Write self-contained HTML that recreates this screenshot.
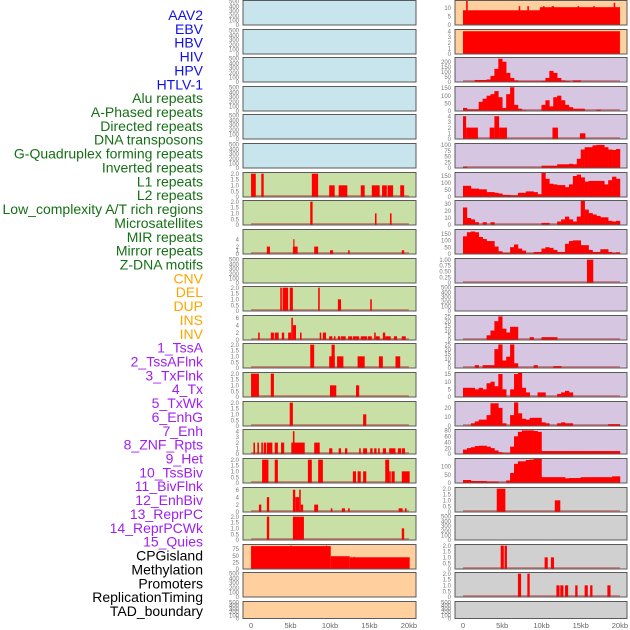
<!DOCTYPE html>
<html><head><meta charset="utf-8">
<style>
html,body{margin:0;padding:0;background:#fff;}
svg{display:block;font-family:"Liberation Sans",sans-serif;}
</style></head>
<body>
<svg id="chart" width="630" height="630" viewBox="0 0 630 630" xmlns="http://www.w3.org/2000/svg">
<g id="labels" font-size="14" text-anchor="end"></g>
<g id="panels"></g>
<g id="xaxis" font-size="7.5" fill="#666" text-anchor="middle"></g>
</svg>
<script>
// ---- labels ----
const labelNames = ["AAV2","EBV","HBV","HIV","HPV","HTLV-1","Alu repeats","A-Phased repeats","Directed repeats","DNA transposons","G-Quadruplex forming repeats","Inverted repeats","L1 repeats","L2 repeats","Low_complexity A/T rich regions","Microsatellites","MIR repeats","Mirror repeats","Z-DNA motifs","CNV","DEL","DUP","INS","INV","1_TssA","2_TssAFlnk","3_TxFlnk","4_Tx","5_TxWk","6_EnhG","7_Enh","8_ZNF_Rpts","9_Het","10_TssBiv","11_BivFlnk","12_EnhBiv","13_ReprPC","14_ReprPCWk","15_Quies","CPGisland","Methylation","Promoters","ReplicationTiming","TAD_boundary"];
const labelGroups = [0,0,0,0,0,0,1,1,1,1,1,1,1,1,1,1,1,1,1,2,2,2,2,2,3,3,3,3,3,3,3,3,3,3,3,3,3,3,3,4,4,4,4,4];
const groupColors = ["#1010e8","#157015","#ffa500","#a020f0","#000000"];

// ---- x axis ----
const xTicks = [0,5,10,15,20];
const xTickLabels = ["0","5kb","10kb","15kb","20kb"];

// ---- panel backgrounds ----
const leftBg = ["b","b","b","b","b","b","g","g","g","g","g","g","g","g","g","g","g","g","g","o","o","o"];
const rightBg = ["o","o","p","p","p","p","p","p","p","p","p","p","p","p","p","p","p","r","r","r","r","r"];

// ---- y-axis ranges & ticks ----
const E = [520,[0,100,200,300,400,500]];
const leftY = [E,E,E,E,E,E,[2.1,[0,0.5,1,1.5,2]],[2.1,[0,0.5,1,1.5,2]],[6.6,[0,1,2,4]],E,[2.1,[0,0.5,1,1.5,2]],[6.6,[0,2,4,6]],[2.1,[0,0.5,1,1.5,2]],[2.1,[0,0.5,1,1.5,2]],[2.1,[0,0.5,1,1.5,2]],[4.3,[0,1,2,3,4]],[2.1,[0,0.5,1,1.5,2]],[6.6,[0,2,4,6]],[2.1,[0,0.5,1,1.5,2]],[92,[0,25,50,75]],E,E];
const rightY = [[14.3,[0,5,10]],[4.3,[0,1,2,3,4]],[242,[0,50,100,150,200]],[160,[0,50,100,150]],[4.3,[0,1,2,3,4]],[106,[0,25,50,75,100]],[175,[0,50,100,150]],[35,[0,10,20,30]],[180,[0,50,100,150]],[1.05,[0,0.25,0.5,0.75,1]],E,[26,[0,5,10,15,20,25]],[26,[0,5,10,15,20,25]],[16,[0,5,10,15]],[27,[0,10,20]],[83,[0,20,40,60,80]],[147,[0,50,100]],[2.1,[0,0.5,1,1.5,2]],E,[2.1,[0,0.5,1,1.5,2]],[2.1,[0,0.5,1,1.5,2]],E];

// ---- segment data [startKb, endKb, value] ----
const leftSegs = [[],[],[],[],[],[],
 [[0,0.6,2],[1.3,1.6,2],[7.7,8.5,2],[9.9,10.6,1],[11.1,12.2,1],[13.9,14.4,1],[15.3,16.3,1],[16.6,17.2,1],[17.3,18,1],[18.9,19.4,1]],
 [[7.5,7.8,2],[15.7,15.9,1],[17.6,17.8,1]],
 [[2.0,2.4,2],[5.3,5.9,2],[5.35,5.5,4],[8.0,8.5,2],[10.0,10.4,1],[12.3,12.5,1],[19.1,19.4,1]],
 [],
 [[3.7,3.9,2],[4.0,4.7,2],[4.9,5.3,2],[8.5,8.7,2],[11.0,11.4,1],[15.1,15.3,1]],
 [[0.9,1.1,2],[2.5,2.9,2],[3.0,3.5,2],[3.9,4.2,2],[4.7,5.1,2],[5.1,5.3,6],[5.3,5.7,4],[6.2,6.4,2],[8.7,8.9,2],[9.1,9.5,2],[9.9,10.3,1],[10.5,10.7,1],[11.0,11.3,1],[11.4,12.0,1],[12.3,12.8,1],[12.9,13.7,1],[13.9,14.7,1],[14.8,15.3,1],[15.6,15.8,2],[15.8,16.3,1],[16.7,17.0,2],[17.0,17.7,1],[18.1,18.5,1],[19.1,19.6,1]],
 [[7.5,8.0,2],[9.9,10.6,1],[10.2,10.6,2],[10.9,11.7,1],[13.5,14.4,1],[16.2,16.7,1],[18.3,18.9,1]],
 [[0,1.0,2],[2.5,2.9,2],[10.0,10.8,1],[13.3,13.7,1]],
 [[4.9,5.3,2],[14.2,14.6,1]],
 [[0.3,0.5,2],[0.8,1.0,2],[1.3,1.5,2],[1.6,1.9,2],[2.0,2.7,2],[3.0,3.4,2],[3.8,4.2,2],[5.1,6.8,2],[5.3,5.5,4],[8.0,8.7,2],[9.9,10.3,1],[11.1,11.4,1],[11.9,12.2,1],[13.7,13.9,1],[14.2,14.7,1],[15.1,15.4,1],[15.6,15.9,1],[16.1,16.3,1],[16.7,17.1,1],[17.5,18.3,1],[18.6,19.0,1],[19.1,19.5,1]],
 [[1.4,2.2,2],[3.0,3.4,2],[7.2,7.7,2],[8.5,9.1,2],[12.9,13.3,1],[13.5,13.9,1],[14.2,14.6,1],[17.0,17.5,2],[17.5,17.7,1],[17.8,18.2,1],[19.1,20.1,1]],
 [[1.0,1.3,2],[2.0,2.3,4],[5.3,5.6,6],[5.6,6.1,4],[6.1,6.3,6],[6.3,6.6,2],[8.0,8.5,2],[10.1,10.3,1],[11.5,11.9,1],[12.3,12.5,1],[18.7,19.2,1],[19.5,19.7,1]],
 [[2.0,2.3,2],[5.3,6.7,2],[19.1,19.4,1]],
 [[0,10.1,86],[10.1,12.5,48],[12.5,20.1,44],[5.0,5.1,88],[9.5,9.6,88],[13.0,13.1,46]],
 [],[]];
const rightSegs = [
 [[0,20,8.6],[9.8,20,10.4],[0.4,0.6,14],[7.1,7.3,11],[8.2,8.4,11],[10.2,10.4,11],[11.3,11.6,11],[14.6,14.8,11],[16.6,16.8,11],[19.2,19.4,13]],
 [[0,20,4]],
 [],[],
 [[0,0.4,4],[0.4,1.9,2],[3.4,4.0,2],[4.0,4.6,4],[4.6,5.6,2],[11.4,12.1,2],[14.9,15.6,1]],
 [],[],[],[],
 [[15.8,16.6,1]],
 [],[],[],[],[],[],[],
 [[4.3,5.4,2],[11.7,12.4,1]],
 [],
 [[4.8,5.2,2],[5.3,5.6,2],[10.4,10.8,1],[11.2,11.6,1]],
 [[7.0,7.4,2],[8.2,8.5,2],[11.9,12.3,1],[12.4,12.8,1],[13.0,13.4,1],[14.3,14.6,1],[15.5,15.9,1],[16.2,16.5,1],[18.4,18.8,1]],
 []];

// ---- profile data: 40 bins of 0.5kb (0-20kb) ----
const hivProfile = [5,5,5,20,20,20,25,60,130,230,200,90,40,15,8,8,8,8,8,8,10,40,110,90,40,15,10,5,15,15,5,5,5,5,5,5,5,5,5,5];
const aluProfile = [20,10,10,10,60,80,100,110,130,90,20,110,155,40,15,5,3,3,3,3,40,70,30,90,100,70,40,25,15,15,15,3,3,3,8,3,3,3,3,3];
const g4Profile = [5,0,0,0,0,0,0,0,0,0,0,0,0,0,0,0,0,0,0,0,10,10,10,10,16,16,16,18,16,40,80,90,90,98,100,100,90,80,78,82];
const invProfile = [80,80,60,60,55,55,35,35,30,25,15,15,12,12,30,30,40,40,35,20,175,130,95,90,85,85,70,90,150,160,140,110,115,115,115,115,90,120,145,130];
const lowProfile = [25,10,8,4,0,4,0,4,0,0,0,0,0,0,0,0,0,0,0,0,3,3,0,0,5,8,12,8,5,12,35,22,17,15,13,11,11,6,5,6];
const mirProfile = [130,160,165,160,125,110,95,95,55,20,8,8,50,70,40,25,5,5,15,15,40,50,45,30,15,15,75,95,100,100,65,65,30,15,15,35,35,15,8,12];
const insProfile = [0,0,0,0,0,0,5,10,20,25,12,8,14,14,0,0,0,3,0,0,3,3,3,3,0,0,0,0,0,0,0,0,0,0,0,0,0,0,0,0];
const tssaProfile = [0,0,0,3,0,3,3,3,20,25,8,12,25,5,0,0,0,0,3,0,0,0,0,2,2,0,0,0,0,0,0,0,0,0,0,0,0,0,0,0];
const tssaflnkProfile = [6,6,6,5,6,5,9,10,7,15,5,0,5,15,16,6,3,0,0,3,3,0,0,0,2,3,4,3,0,0,0,0,0,0,0,0,0,0,0,0];
const txflnkProfile = [0,0,3,5,7,7,12,25,25,20,3,0,12,26,14,8,7,9,9,9,4,3,0,0,3,4,3,3,0,0,0,0,0,0,0,0,0,2,2,2];
const txProfile = [15,20,23,27,28,28,25,20,12,6,3,3,25,60,75,80,80,80,78,75,10,10,10,10,10,10,10,10,10,10,10,10,10,10,10,10,10,10,10,10];
const txwkProfile = [18,18,12,12,12,12,8,8,8,3,3,15,60,115,130,130,138,140,145,145,35,35,35,35,35,35,28,30,30,30,35,35,35,35,35,35,35,35,40,40];
const rightProfiles = [null,null,hivProfile,aluProfile,null,g4Profile,invProfile,lowProfile,mirProfile,null,null,insProfile,tssaProfile,tssaflnkProfile,txflnkProfile,txProfile,txwkProfile,null,null,null,null,null];

// ---- render ----
const NS = "http://www.w3.org/2000/svg";
const bgColors = {b:"#c8e4ec",g:"#c8e0a6",o:"#ffd09e",p:"#d6c6e2",r:"#d0d0d0"};
const D0 = -1.02, D1 = 20.9;
function mk(tag, attrs, parent){const e=document.createElementNS(NS,tag);for(const k in attrs)e.setAttribute(k,attrs[k]);parent.appendChild(e);return e;}
const labelsG = document.getElementById("labels");
labelNames.forEach((t,i)=>{
  const e = mk("text",{x:203,y:(15+i*13.86+5).toFixed(1),fill:groupColors[labelGroups[i]]},labelsG);
  
  
  e.textContent = t;
});
const panelsG = document.getElementById("panels");
function rowTop(i){return Math.round(i*28.62)+0.5;}
function drawPanel(side, i){
  const x0 = side===0?243:455, x1 = side===0?416:627;
  const top = rowTop(i), h = i===21?17:24.5, bot = top+h;
  const bg = side===0?leftBg[i]:rightBg[i];
  const yr = side===0?leftY[i]:rightY[i];
  const ymax = yr[0];
  const xs = kb => x0 + (kb-D0)/(D1-D0)*(x1-x0);
  const ys = v => bot - v/ymax*h;
  const g = mk("g",{},panelsG);
  
  
  const bgr = mk("rect",{x:x0,y:top,width:x1-x0,height:h,fill:bgColors[bg]},g);
  
  
  // ticks
  yr[1].forEach(v=>{
    const t = mk("text",{x:x0-4,y:(ys(v)+2.2).toFixed(1),"font-size":6,fill:"#777","text-anchor":"end"},g);
    
    
    t.textContent = v===0?"0":(ymax<3 && ymax>1.5 ? v.toFixed(1) : (ymax<1.5? v.toFixed(2): String(v)));
  });
  const segs = side===0?leftSegs[i]:rightSegs[i];
  const prof = side===1?rightProfiles[i]:null;
  const hasData = segs.length>0 || prof;
  if(hasData){
    const base = mk("rect",{x:xs(0),y:bot-2,width:xs(20)-xs(0),height:2,fill:"#c03030","fill-opacity":0.5},g);
    
    
  }
  if(prof){
    prof.forEach((v,b)=>{
      if(v<=0) return;
      const r = mk("rect",{x:xs(b*0.5).toFixed(2),y:ys(Math.min(v,ymax)).toFixed(2),width:(xs((b+1)*0.5)-xs(b*0.5)+0.3).toFixed(2),height:(bot-ys(Math.min(v,ymax))).toFixed(2),fill:"#ff0000"},g);
      
      
    });
  }
  segs.forEach(s=>{
    const v=Math.min(s[2],ymax);
    const r = mk("rect",{x:xs(s[0]).toFixed(2),y:ys(v).toFixed(2),width:Math.max(1,xs(s[1])-xs(s[0])).toFixed(2),height:(bot-ys(v)).toFixed(2),fill:"#ff0000"},g);
    
    
  });
  const br = mk("rect",{x:x0,y:top,width:x1-x0,height:h,fill:"none",stroke:"#5a5a5a","stroke-width":1},g);
  
  
}
for(let i=0;i<22;i++){drawPanel(0,i);drawPanel(1,i);}
const xg = document.getElementById("xaxis");
[[243,416],[455,627]].forEach(([x0,x1])=>{
  xTicks.forEach((k,j)=>{
    const t = mk("text",{x:(x0+(k-D0)/(D1-D0)*(x1-x0)).toFixed(1),y:628},xg);
    
    
    t.textContent = xTickLabels[j];
  });
});
</script>
</body></html>
